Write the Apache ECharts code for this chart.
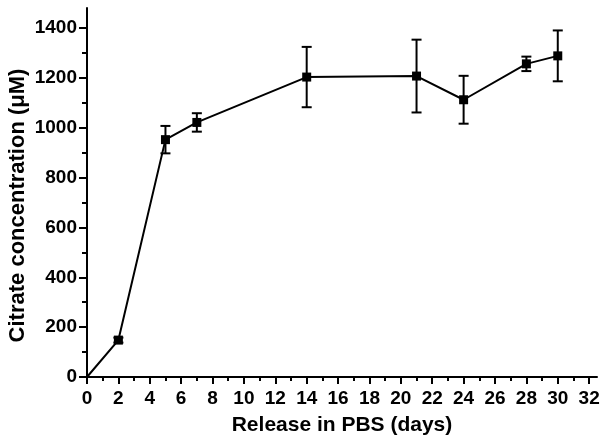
<!DOCTYPE html>
<html>
<head>
<meta charset="utf-8">
<script src="https://cdn.jsdelivr.net/npm/echarts@6/dist/echarts.min.js"></script>
<style>
  html, body { margin: 0; padding: 0; background: #fff; }
  #chart { width: 607px; height: 442px; }
</style>
</head>
<body>
<div id="chart"></div>
<script>
// release data
const days = [0, 2, 5, 7, 14, 21, 24, 28, 30];
const citrate = [0, 148, 952, 1021, 1203, 1207, 1112, 1256, 1288];
const citrateErr = [0, 10, 55, 37, 121, 146, 96, 29, 102];

const xMajorTicks = [0, 2, 4, 6, 8, 10, 12, 14, 16, 18, 20, 22, 24, 26, 28, 30, 32];
const xMinorTicks = [1, 3, 5, 7, 9, 11, 13, 15, 17, 19, 21, 23, 25, 27, 29, 31];
const yMajorTicks = [0, 200, 400, 600, 800, 1000, 1200, 1400];
const yMinorTicks = [100, 300, 500, 700, 900, 1100, 1300];

const font = '"Liberation Sans", Arial, sans-serif';
const chart = echarts.init(document.getElementById('chart'));

const lineData = days.map((d, i) => {
  const item = { value: [d, citrate[i]] };
  if (i === 0) item.symbol = 'none';
  return item;
});
const errData = days.map((d, i) => [d, citrate[i] - citrateErr[i], citrate[i] + citrateErr[i]]);

const labelStyle = { color: '#000', fontFamily: font, fontWeight: 'bold', fontSize: 19 };
const tickLine = { color: '#000', width: 2 };

const option = {
  animation: false,
  backgroundColor: '#fff',
  grid: { left: 87, right: 10, top: 8, bottom: 65, containLabel: false, outerBoundsMode: 'none' },
  xAxis: [
    {
      type: 'value', min: 0, max: 32.5, position: 'bottom',
      splitLine: { show: false },
      axisLine: { show: true, onZero: false, lineStyle: tickLine },
      name: 'Release in PBS (days)',
      nameLocation: 'middle',
      nameGap: 38,
      nameMoveOverlap: false,
      nameTextStyle: { color: '#000', fontFamily: font, fontWeight: 'bold', fontSize: 21 },
      axisTick: { show: true, length: 7, customValues: xMajorTicks, lineStyle: tickLine },
      axisLabel: Object.assign({ margin: 12, customValues: xMajorTicks, formatter: v => String(v) }, labelStyle)
    },
    {
      type: 'value', min: 0, max: 32.5, position: 'bottom',
      splitLine: { show: false },
      axisLine: { show: false, onZero: false },
      axisTick: { show: true, length: 4, customValues: xMinorTicks, lineStyle: tickLine },
      axisLabel: { show: false }
    }
  ],
  yAxis: [
    {
      type: 'value', min: 0, max: 1480, position: 'left',
      splitLine: { show: false },
      axisLine: { show: true, onZero: false, lineStyle: tickLine },
      name: 'Citrate concentration (μM)',
      nameLocation: 'middle',
      nameGap: 58,
      nameMoveOverlap: false,
      nameRotate: 90,
      nameTextStyle: { color: '#000', fontFamily: font, fontWeight: 'bold', fontSize: 22, padding: [0, 26, 0, 0] },
      axisTick: { show: true, length: 8, customValues: yMajorTicks, lineStyle: tickLine },
      axisLabel: Object.assign({ margin: 10, customValues: yMajorTicks, formatter: v => String(v) }, labelStyle)
    },
    {
      type: 'value', min: 0, max: 1480, position: 'left',
      splitLine: { show: false },
      axisLine: { show: false, onZero: false },
      axisTick: { show: true, length: 5, customValues: yMinorTicks, lineStyle: tickLine },
      axisLabel: { show: false }
    }
  ],
  series: [
    {
      type: 'custom',
      name: 'error',
      data: errData,
      z: 1,
      renderItem: function (params, api) {
        const x = api.value(0);
        const lo = api.coord([x, api.value(1)]);
        const hi = api.coord([x, api.value(2)]);
        const hw = 5;
        const style = { stroke: '#000', lineWidth: 2 };
        return {
          type: 'group',
          children: [
            { type: 'line', shape: { x1: lo[0], y1: lo[1], x2: hi[0], y2: hi[1] }, style: style },
            { type: 'line', shape: { x1: lo[0] - hw, y1: lo[1], x2: lo[0] + hw, y2: lo[1] }, style: style },
            { type: 'line', shape: { x1: hi[0] - hw, y1: hi[1], x2: hi[0] + hw, y2: hi[1] }, style: style }
          ]
        };
      }
    },
    {
      type: 'line',
      name: 'citrate',
      data: lineData,
      z: 2,
      symbol: 'rect',
      symbolSize: 9,
      lineStyle: { color: '#000', width: 2 },
      itemStyle: { color: '#000' }
    }
  ]
};

chart.setOption(option);
</script>
</body>
</html>
